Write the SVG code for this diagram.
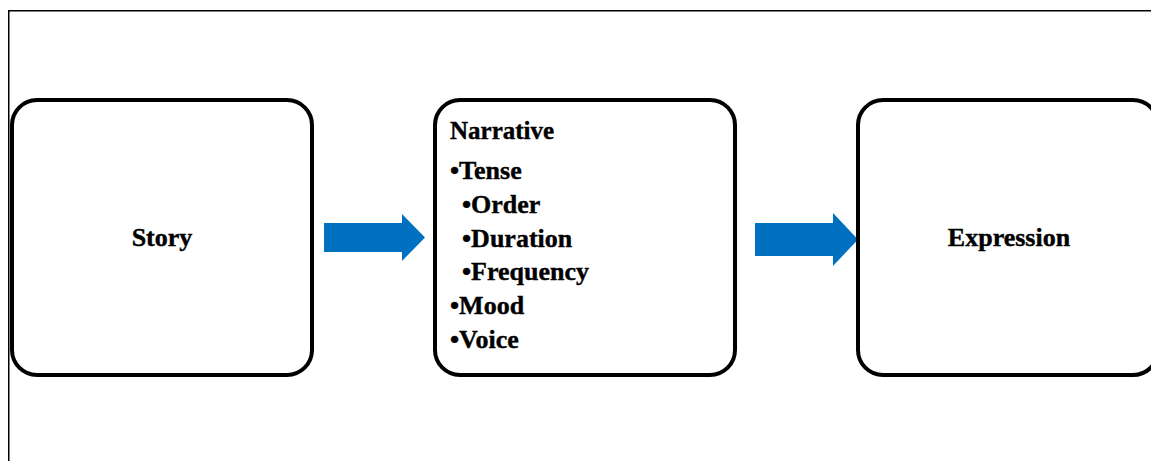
<svg xmlns="http://www.w3.org/2000/svg" width="1151" height="461" viewBox="0 0 1151 461">
<style>
.box{fill:#fff;stroke:#000;stroke-width:4}
.t{font-family:"Liberation Serif","Times New Roman",serif;font-weight:bold;font-size:26px;fill:#000;stroke:#000;stroke-width:0.4}
.arrow{fill:#0070C0}
</style>
<rect width="1151" height="461" fill="#fff"/>
<rect x="8.75" y="10.75" width="1200" height="500" fill="none" stroke="#000" stroke-width="1.5"/>
<g id="connectors">
<polygon class="arrow" points="324,223 402,223 402,214 425,237.5 402,261 402,252 324,252"/>
<polygon class="arrow" points="755,223 833,223 833,213 858,239.5 833,266 833,256 755,256"/>
</g>
<g id="story">
<rect class="box" x="12" y="100" width="300" height="275" rx="25"/>
<text class="t" x="162" y="246" text-anchor="middle">Story</text>
</g>
<g id="narrative">
<rect class="box" x="435" y="100" width="300" height="275" rx="25"/>
<text class="t" x="450" y="139" style="font-size:25px">Narrative</text>
<text class="t" x="450" y="179">•Tense</text>
<text class="t" x="462" y="213">•Order</text>
<text class="t" x="462" y="247">•Duration</text>
<text class="t" x="462" y="280">•Frequency</text>
<text class="t" x="450" y="314">•Mood</text>
<text class="t" x="450" y="348">•Voice</text>
</g>
<g id="expression">
<rect class="box" x="858" y="100" width="300" height="275" rx="25"/>
<text class="t" x="1009" y="246" text-anchor="middle">Expression</text>
</g>
</svg>
